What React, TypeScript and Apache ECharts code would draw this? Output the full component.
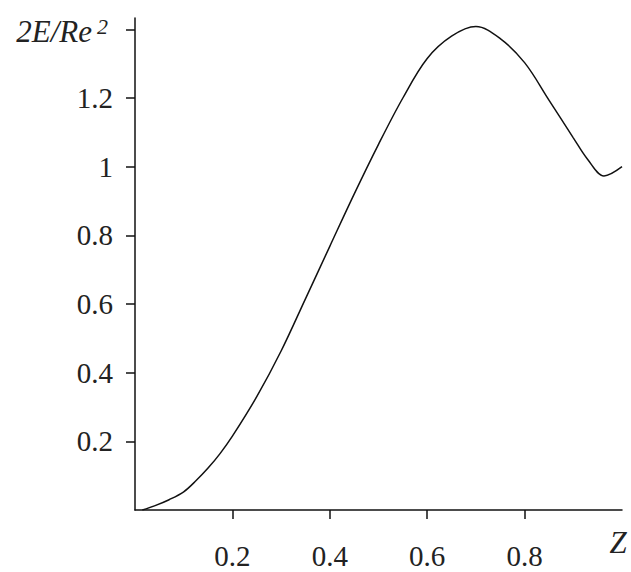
import React, { useEffect, useRef } from "react";
import * as echarts from "echarts";

const zValues = [0.015, 0.04, 0.07, 0.1, 0.125, 0.15, 0.175, 0.2, 0.25, 0.3, 0.35, 0.4, 0.45, 0.5, 0.55, 0.6, 0.65, 0.7, 0.75, 0.8, 0.85, 0.9, 0.93, 0.963, 1.0];
const energyValues = [0, 0.012, 0.03, 0.053, 0.085, 0.122, 0.165, 0.215, 0.33, 0.463, 0.615, 0.768, 0.92, 1.065, 1.2, 1.315, 1.38, 1.408, 1.373, 1.303, 1.194, 1.084, 1.02, 0.973, 1.0];
const xTickValues = [0.2, 0.4, 0.6, 0.8];
const yTickValues = [0.2, 0.4, 0.6, 0.8, 1, 1.2, 1.4];

const FONT = "Liberation Serif";
const W = 631;
const H = 572;
const GRID = { left: 135, right: 9, top: 18, bottom: 62 };

export default function App() {
  const ref = useRef<HTMLDivElement>(null);
  useEffect(() => {
    if (!ref.current) return;
    const chart = echarts.init(ref.current, undefined, { renderer: "svg" });
    const data = zValues.map((z, i) => [z, energyValues[i]]);
    chart.setOption({
      animation: false,
      backgroundColor: "#ffffff",
      grid: { ...GRID, containLabel: false },
      xAxis: {
        type: "value",
        min: 0,
        max: 1.0,
        splitLine: { show: false },
        axisLine: { show: true, onZero: false, lineStyle: { color: "#111", width: 1.5 } },
        axisTick: { show: true, customValues: xTickValues, length: 9, lineStyle: { color: "#111", width: 1.5 } },
        axisLabel: {
          customValues: xTickValues,
          margin: 31,
          fontFamily: FONT,
          fontSize: 29,
          color: "#222",
          formatter: (v: number) => String(Number(v.toFixed(2))),
        },
      },
      yAxis: {
        type: "value",
        min: 0,
        max: 1.433,
        splitLine: { show: false },
        axisLine: { show: true, onZero: false, lineStyle: { color: "#111", width: 1.5 } },
        axisTick: { show: true, customValues: yTickValues, length: 9, lineStyle: { color: "#111", width: 1.5 } },
        axisLabel: {
          customValues: yTickValues.slice(0, 6),
          margin: 22,
          fontFamily: FONT,
          fontSize: 29,
          color: "#222",
          formatter: (v: number) => String(Number(v.toFixed(2))),
        },
      },
      graphic: [
        {
          type: "text",
          x: 92,
          y: 31,
          style: {
            text: "2E/Re",
            font: `italic 31px "${FONT}"`,
            fill: "#222",
            align: "right",
            verticalAlign: "middle",
          },
        },
        {
          type: "text",
          x: 97,
          y: 26,
          style: {
            text: "2",
            font: `italic 22px "${FONT}"`,
            fill: "#222",
            align: "left",
            verticalAlign: "middle",
          },
        },
        {
          type: "text",
          x: 618,
          y: 542,
          style: {
            text: "Z",
            font: `italic 31px "${FONT}"`,
            fill: "#222",
            align: "center",
            verticalAlign: "middle",
          },
        },
      ],
      series: [
        {
          type: "line",
          data,
          smooth: 0.35,
          showSymbol: false,
          lineStyle: { color: "#111", width: 1.5 },
        },
      ],
    });
    return () => chart.dispose();
  }, []);
  return (
    <div
      ref={ref}
      style={{ position: "fixed", left: 0, top: 0, width: W, height: H, background: "#fff" }}
    />
  );
}
